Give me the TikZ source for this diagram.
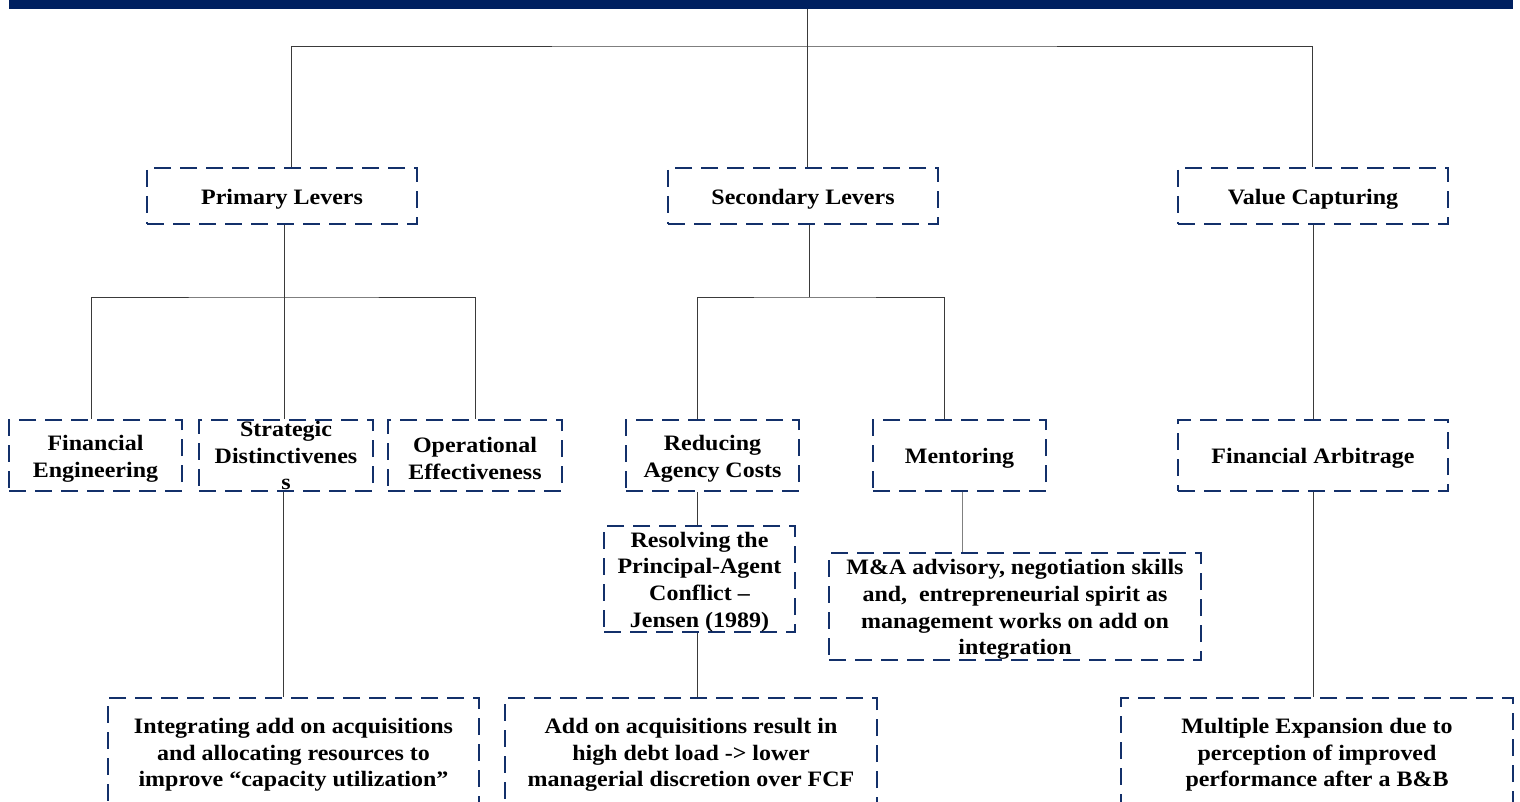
\documentclass[tikz,border=0pt]{standalone}
\usepackage{fontspec}
\setmainfont{Liberation Serif}[FakeStretch=1.09]
\definecolor{navy}{HTML}{002060}
\definecolor{boxline}{HTML}{13306A}
\definecolor{wire}{HTML}{3A3A3A}
\tikzset{
  lever/.style={draw=boxline, line width=2.7pt, dash pattern=on 17pt off 9pt,
    inner sep=0pt},
  caption/.style={align=center, inner sep=0pt, text=black,
    font=\fontsize{22}{26.7}\selectfont\bfseries},
  lowcaption/.style={caption, yshift=-3pt},
  conn/.style={draw=wire, line width=0.9pt},
}
\begin{document}
\begin{tikzpicture}[x=1pt, y=-1pt]
\useasboundingbox (0,0) rectangle (1520,802);
\clip (0,0) rectangle (1520,802);

% header bar
\node[fill=navy, inner sep=0pt, minimum width=1504pt, minimum height=9pt, anchor=north west] (bar) at (9,0) {};

% first level
\node[lever, minimum width=270pt, minimum height=56pt, label={[lowcaption]center:{Primary Levers}}] (pl) at (282,196) {};
\node[lever, minimum width=270pt, minimum height=56pt, label={[lowcaption]center:{Secondary Levers}}] (sl) at (803,196) {};
\node[lever, minimum width=270pt, minimum height=56pt, label={[lowcaption]center:{Value Capturing}}] (vc) at (1313,196) {};

% second level
\node[lever, minimum width=173pt, minimum height=71pt, label={[lowcaption]center:{Financial\\Engineering}}] (fe) at (95.5,455.5) {};
\node[lever, minimum width=174pt, minimum height=71pt, label={[caption]center:{Strategic\\Distinctivenes\\s}}] (sd) at (286,455.5) {};
\node[lever, minimum width=174pt, minimum height=71pt, label={[lowcaption]center:{Operational\\Effectiveness}}] (oe) at (475,455.5) {};
\node[lever, minimum width=173pt, minimum height=71pt, label={[lowcaption]center:{Reducing\\Agency Costs}}] (rac) at (712.5,455.5) {};
\node[lever, minimum width=173pt, minimum height=71pt, label={[lowcaption]center:{Mentoring}}] (men) at (959.5,455.5) {};
\node[lever, minimum width=270pt, minimum height=71pt, label={[lowcaption]center:{Financial Arbitrage}}] (fa) at (1313,455.5) {};

% third level
\node[lever, minimum width=191pt, minimum height=106pt, label={[lowcaption]center:{Resolving the\\Principal-Agent\\Conflict --\\Jensen (1989)}}] (res) at (699.5,579) {};
\node[lever, minimum width=372pt, minimum height=107pt, label={[lowcaption]center:{M\&A advisory, negotiation skills\\and,~ entrepreneurial spirit as\\management works on add on\\integration}}] (ma) at (1015,606.5) {};

% bottom level
\node[lever, minimum width=371pt, minimum height=108pt, label={[lowcaption]center:{Integrating add on acquisitions\\and allocating resources to\\improve “capacity utilization”}}] (int) at (293.5,752) {};
\node[lever, minimum width=372pt, minimum height=108pt, label={[lowcaption]center:{Add on acquisitions result in\\high debt load -> lower\\managerial discretion over FCF}}] (add) at (691,752) {};
\node[lever, minimum width=392pt, minimum height=108pt, label={[lowcaption]center:{Multiple Expansion due to\\perception of improved\\performance after a B\&B}}] (mul) at (1317,752) {};

% junction points of the tree
\coordinate (hub0) at (807,46);
\coordinate (hub1) at (284,297);
\coordinate (hub2) at (809,297);
\coordinate (plin) at ([xshift=9pt]pl.north);
\coordinate (vcin) at ([xshift=-1pt]vc.north);
\coordinate (slin) at ([xshift=4pt]sl.north);
\coordinate (plout) at ([xshift=2pt]pl.south);
\coordinate (slout) at ([xshift=6pt]sl.south);
\coordinate (fein) at ([xshift=-4.5pt]fe.north);
\coordinate (racin) at ([xshift=-15.5pt]rac.north);
\coordinate (menin) at ([xshift=-15.5pt]men.north);
\coordinate (racout) at ([xshift=-15.5pt]rac.south);
\coordinate (menout) at ([xshift=2.5pt]men.south);
\coordinate (sdout) at ([xshift=-3pt]sd.south);
\coordinate (resout) at ([xshift=-2.5pt]res.south);

% connectors
\draw[conn] (bar.south -| hub0) -- (hub0);
\draw[conn] (plin) |- (hub0) -| (vcin);
\draw[conn] (hub0) -- (slin);

\draw[conn] (plout) -- (hub1);
\draw[conn] (fein) |- (hub1) -| (oe.north);
\draw[conn] (hub1) -- (hub1 |- sd.north);

\draw[conn] (slout) -- (hub2);
\draw[conn] (racin) |- (hub2) -| (menin);

\draw[conn] (vc.south) -- (fa.north);

\draw[conn] (racout) -- (racout |- res.north);
\draw[conn, draw=gray] (menout) -- (menout |- ma.north);
\draw[conn] (sdout) -- (sdout |- int.north);
\draw[conn] (resout) -- (resout |- add.north);
\draw[conn] (fa.south) -- (fa.south |- mul.north);
\end{tikzpicture}
\end{document}
